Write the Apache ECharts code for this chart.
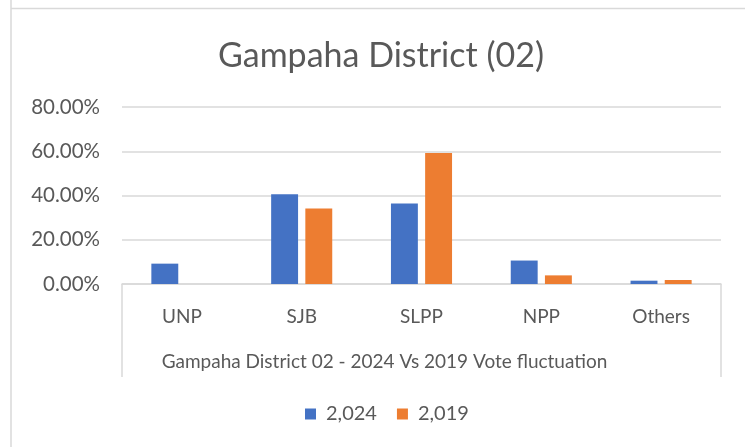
<!DOCTYPE html>
<html>
<head>
<meta charset="utf-8">
<script src="https://cdn.jsdelivr.net/npm/echarts@6/dist/echarts.min.js"></script>
<style>
  html, body { margin: 0; padding: 0; background: #fff; }
  #main { width: 745px; height: 447px; }
</style>
</head>
<body>
<div id="main"></div>
<script>
// chart data
var categories = ["UNP", "SJB", "SLPP", "NPP", "Others"];
var votes2024 = [9.2, 40.6, 36.4, 10.6, 1.5];
var votes2019 = [null, 34.1, 59.2, 3.9, 1.8];
var seriesNames = ["2,024", "2,019"];
var outerLabel = ["Gampaha District 02 - 2024 Vs 2019 Vote fluctuation"];

var font = "Lato";
var myChart = echarts.init(document.getElementById("main"));

myChart.setOption({
  animation: false,
  title: {
    text: "Gampaha District (02)",
    left: 213,
    top: 34,
    textStyle: { fontFamily: font, fontSize: 34, fontWeight: "normal", color: "#595959" }
  },
  legend: {
    data: seriesNames,
    top: 399,
    left: 300,
    itemWidth: 11,
    itemHeight: 11,
    itemGap: 20,
    icon: "rect",
    textStyle: { fontFamily: font, fontSize: 20, color: "#595959", padding: [0, 0, 0, 5] }
  },
  grid: { left: 122, right: 24, top: 107, bottom: 163 },
  xAxis: [
    {
      type: "category",
      data: categories,
      axisLine: { lineStyle: { color: "#d9d9d9", width: 1.5 } },
      axisTick: { show: false },
      axisLabel: { margin: 23, fontFamily: font, fontSize: 19, color: "#595959" }
    },
    {
      type: "category",
      position: "bottom",
      data: outerLabel,
      axisLine: { show: false },
      axisTick: { show: true, length: 93, lineStyle: { color: "#d9d9d9", width: 1.5 } },
      axisLabel: { margin: 68, fontFamily: font, fontSize: 19, color: "#595959", padding: [0, 74, 0, 0] }
    }
  ],
  yAxis: {
    type: "value",
    min: 0,
    max: 80,
    interval: 20,
    axisLine: { show: false },
    axisTick: { show: false },
    splitLine: { lineStyle: { color: "#d9d9d9", width: 1.5 } },
    axisLabel: {
      margin: 22,
      fontFamily: font,
      fontSize: 20.5,
      color: "#595959",
      formatter: function (v) { return v.toFixed(2) + "%"; }
    }
  },
  graphic: [
    { type: "line", shape: { x1: 11, y1: 0, x2: 11, y2: 447 }, style: { stroke: "#d9d9d9", lineWidth: 1.5 } },
    { type: "line", shape: { x1: 11, y1: 8.5, x2: 745, y2: 8.5 }, style: { stroke: "#d9d9d9", lineWidth: 1.5 } }
  ],
  series: [
    {
      name: seriesNames[0],
      type: "bar",
      data: votes2024,
      barGap: "27%",
      barCategoryGap: "49%",
      itemStyle: { color: "#4472C4" }
    },
    {
      name: seriesNames[1],
      type: "bar",
      data: votes2019,
      itemStyle: { color: "#ED7D31" }
    }
  ]
});
</script>
</body>
</html>
